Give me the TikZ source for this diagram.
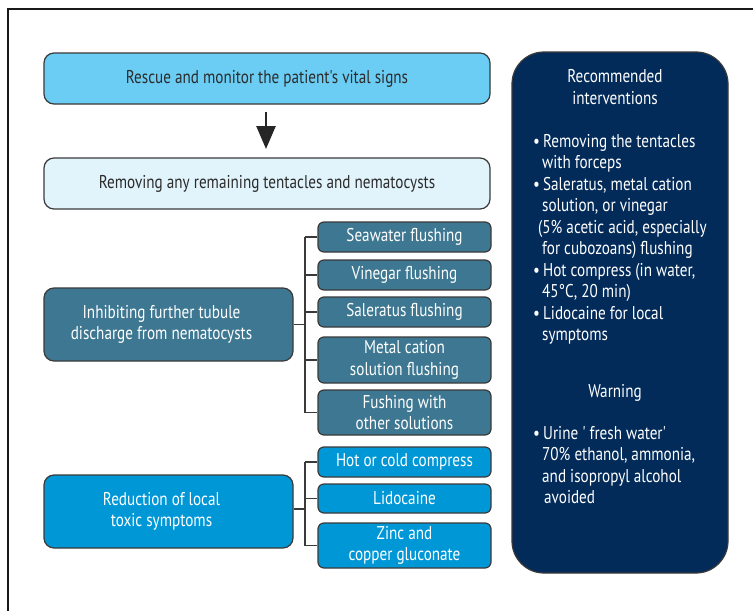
\documentclass[tikz,border=0pt]{standalone}
\usepackage{fontspec}
\setmainfont{PT Sans}[FakeStretch=0.82, Ligatures=TeXOff]
\usetikzlibrary{arrows.meta}
\definecolor{boxA}{HTML}{6BCDF4}
\definecolor{boxB}{HTML}{E1F3FB}
\definecolor{teal}{HTML}{3D7791}
\definecolor{blueC}{HTML}{0097D7}
\definecolor{navy}{HTML}{022B5A}
\definecolor{edge}{HTML}{3A3A3A}
\definecolor{txt}{HTML}{2B2B2B}
\tikzset{
  basebox/.style={draw=edge, line width=1.2pt, rounded corners=10pt, inner sep=0pt,
    align=center, font=\fontsize{18.5}{21.5}\selectfont},
  topbox/.style={basebox, fill=boxA, text=txt, minimum width=446pt, minimum height=51pt},
  lightbox/.style={basebox, fill=boxB, text=txt, minimum width=446pt, minimum height=51pt},
  mainteal/.style={basebox, fill=teal, text=white, minimum width=249pt, minimum height=73pt},
  mainblue/.style={basebox, fill=blueC, text=white, minimum width=249pt, minimum height=73pt},
  subteal/.style={basebox, rounded corners=6pt, fill=teal, text=white, minimum width=173pt},
  subblue/.style={basebox, rounded corners=6pt, fill=blueC, text=white, minimum width=173pt},
  link/.style={draw=edge, line width=1.2pt},
  paneltext/.style={text=white, font=\fontsize{18.5}{21.5}\selectfont, inner sep=0pt}
}
\begin{document}
\begin{tikzpicture}[x=1pt,y=-1pt]
\useasboundingbox (0,0) rectangle (753,611);
\fill[white] (0,0) rectangle (753,611);
\draw[line width=1.5pt, black!90] (753,9) -- (8,9) -- (8,611);

% top flow
\node[topbox] (rescue) at (267,78.5) {Rescue and monitor the patient's vital signs};
\node[lightbox] (remove) at (267,183.5) {Removing any remaining tentacles and nematocysts};
\coordinate (arrS) at (266,112);
\coordinate (arrE) at (266,149);
\draw[line width=2.6pt, black!85, -{Triangle[width=19pt,length=23pt]}] (arrS) -- (arrE);

% inhibit group
\node[mainteal] (inh) at (168.5,324.5) {\hspace*{-14pt}Inhibiting further tubule\\\hspace*{-14pt}discharge from nematocysts};
\node[subteal, minimum height=30pt] (sea) at (404.5,237) {Seawater flushing};
\node[subteal, minimum height=30pt] (vin) at (404.5,275) {Vinegar flushing};
\node[subteal, minimum height=30pt] (sal) at (404.5,312) {Saleratus flushing};
\node[subteal, minimum height=46pt] (met) at (404.5,360) {Metal cation\\solution flushing};
\node[subteal, minimum height=45pt] (fus) at (404.5,412.5) {Fushing with\\other solutions};
\coordinate (j1) at (305,324.5);
\draw[link] (inh.east) -- (j1);
\draw[link] (j1 |- sea.west) -- (j1 |- fus.west);
\foreach \n in {sea,vin,sal,met,fus} \draw[link] (j1 |- \n.west) -- (\n.west);

% reduction group
\node[mainblue] (red) at (168.5,511.5) {\hspace*{-14pt}Reduction of local\\\hspace*{-14pt}toxic symptoms};
\node[subblue, minimum height=30pt] (hot) at (404.5,462) {Hot or cold compress};
\node[subblue, minimum height=29pt] (lid) at (404.5,498.5) {Lidocaine};
\node[subblue, minimum height=45pt] (zin) at (404.5,545.5) {Zinc and\\copper gluconate};
\coordinate (j2) at (305,509);
\draw[link] (red.east |- j2) -- (j2);
\draw[link] (j2 |- hot.west) -- (j2 |- zin.west);
\foreach \n in {hot,lid,zin} \draw[link] (j2 |- \n.west) -- (\n.west);

% right panel
\node[draw=edge, line width=1.2pt, fill=navy, rounded corners=32pt, minimum width=216pt, minimum height=521pt, inner sep=0pt] (panel) at (620,312.5) {};
\node[paneltext, align=center, anchor=base] (rech) at (615,104) {Recommended\\interventions};
\node[paneltext, align=left, anchor=base west] (recl) at (533,340.5) {%
•\,Removing the tentacles\\
\hspace*{9pt}with forceps\\
•\,Saleratus, metal cation\\
\hspace*{9pt}solution, or vinegar\\
\hspace*{5pt}(5\% acetic acid, especially\\
\hspace*{9pt}for cubozoans) flushing\\
•\,Hot compress (in water,\\
\hspace*{9pt}45°C, 20 min)\\
•\,Lidocaine for local\\
\hspace*{9pt}symptoms};
\node[paneltext, anchor=base] (warn) at (615,397) {Warning};
\node[paneltext, align=left, anchor=base west] (warnl) at (533,503.5) {%
•\,Urine ' fresh water'\\
\hspace*{9pt}70\% ethanol, ammonia,\\
\hspace*{9pt}and isopropyl alcohol\\
\hspace*{11pt}avoided};
\end{tikzpicture}
\end{document}
